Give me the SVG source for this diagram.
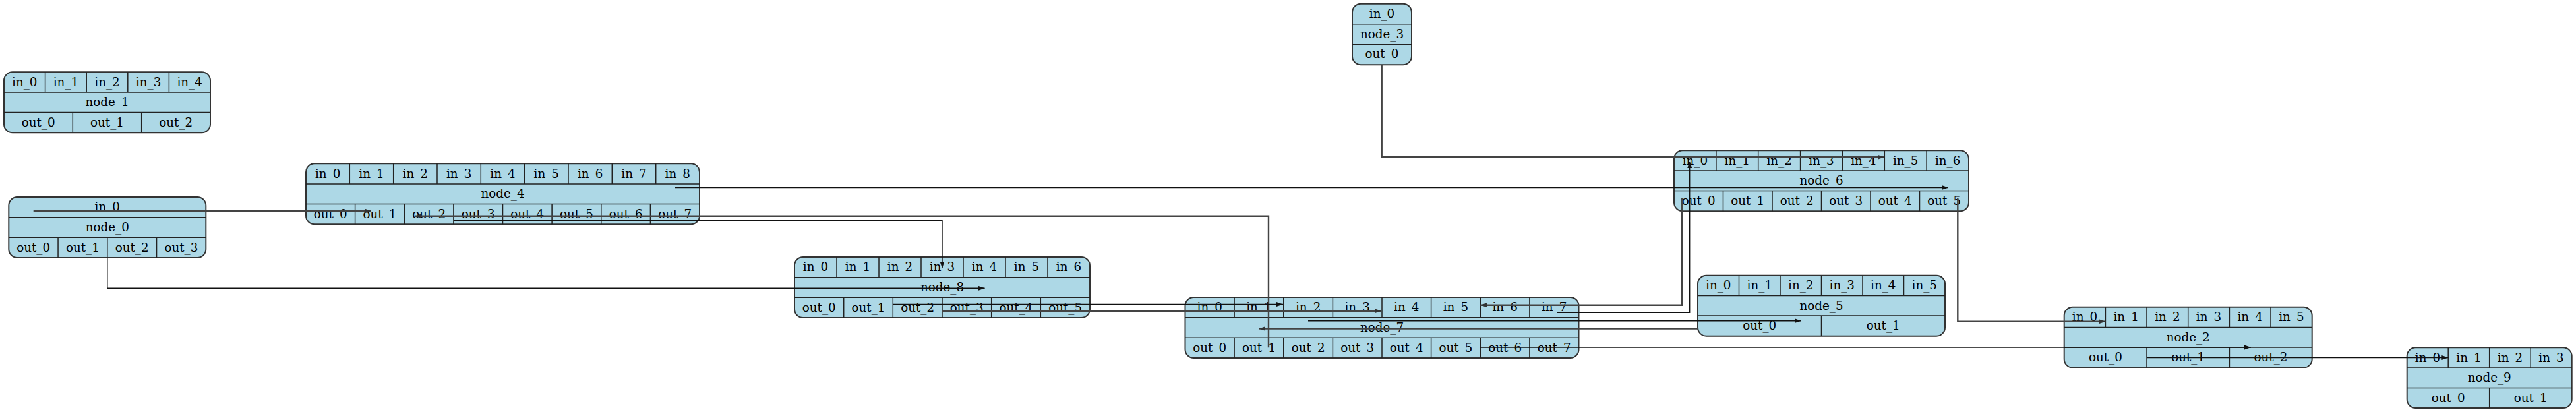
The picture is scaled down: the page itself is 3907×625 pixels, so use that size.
<svg xmlns="http://www.w3.org/2000/svg" width="3907" height="625" viewBox="0 0 3907 625">
<style>
.box{fill:#ADD8E6;stroke:#333;stroke-width:2}
.d{stroke:#222;stroke-width:1.5;fill:none}
text{font-family:"DejaVu Serif",serif;font-size:18.3px;fill:#000;text-anchor:middle}
.e{fill:none;stroke:#111;stroke-width:1.4}
.t{fill:none;stroke:#444;stroke-width:2.4}
</style>
<defs>
<marker id="a" markerUnits="userSpaceOnUse" markerWidth="11" markerHeight="8" refX="10" refY="3.5" orient="auto"><path d="M0,0 L10,3.5 L0,7 z" fill="#111"/></marker>
<marker id="b" markerUnits="userSpaceOnUse" markerWidth="11" markerHeight="8" refX="10" refY="3.5" orient="auto"><path d="M0,0 L10,3.5 L0,7 z" fill="#333"/></marker>
</defs>
<rect width="3907" height="625" fill="#fff"/>

<g id="node_1">
<rect class="box" x="6" y="109.3" width="313" height="92" rx="13"/>
<path class="d" d="M6,140 H319 M6,170.6 H319 M68.6,109.3 V140 M131.2,109.3 V140 M193.8,109.3 V140 M256.4,109.3 V140 M110.3,170.6 V201.3 M214.7,170.6 V201.3"/>
<text x="37.3" y="130.6">in_0</text><text x="99.9" y="130.6">in_1</text><text x="162.5" y="130.6">in_2</text><text x="225.1" y="130.6">in_3</text><text x="287.7" y="130.6">in_4</text>
<text x="162.5" y="161.3">node_1</text>
<text x="58.2" y="192">out_0</text><text x="162.5" y="192">out_1</text><text x="266.8" y="192">out_2</text>
</g>

<g id="node_0">
<rect class="box" x="13.3" y="299" width="299" height="92" rx="13"/>
<path class="d" d="M13.3,329.7 H312.3 M13.3,360.3 H312.3 M88.05,360.3 V391 M162.8,360.3 V391 M237.55,360.3 V391"/>
<text x="162.8" y="320.3">in_0</text>
<text x="162.8" y="351">node_0</text>
<text x="50.7" y="381.7">out_0</text><text x="125.4" y="381.7">out_1</text><text x="200.2" y="381.7">out_2</text><text x="274.9" y="381.7">out_3</text>
</g>

<g id="node_4">
<rect class="box" x="464" y="248.3" width="597" height="92" rx="13"/>
<path class="d" d="M464,279 H1061 M464,309.6 H1061 M530.3,248.3 V279 M596.7,248.3 V279 M663,248.3 V279 M729.3,248.3 V279 M795.7,248.3 V279 M862,248.3 V279 M928.3,248.3 V279 M994.7,248.3 V279 M538.6,309.6 V340.3 M613.3,309.6 V340.3 M687.9,309.6 V340.3 M762.5,309.6 V340.3 M837.1,309.6 V340.3 M911.8,309.6 V340.3 M986.4,309.6 V340.3"/>
<text x="497.2" y="269.6">in_0</text><text x="563.5" y="269.6">in_1</text><text x="629.8" y="269.6">in_2</text><text x="696.2" y="269.6">in_3</text><text x="762.5" y="269.6">in_4</text><text x="828.8" y="269.6">in_5</text><text x="895.2" y="269.6">in_6</text><text x="961.5" y="269.6">in_7</text><text x="1027.8" y="269.6">in_8</text>
<text x="762.5" y="300.3">node_4</text>
<text x="501.3" y="331">out_0</text><text x="575.9" y="331">out_1</text><text x="650.6" y="331">out_2</text><text x="725.2" y="331">out_3</text><text x="799.8" y="331">out_4</text><text x="874.4" y="331">out_5</text><text x="949.1" y="331">out_6</text><text x="1023.7" y="331">out_7</text>
</g>

<g id="node_8">
<rect class="box" x="1205" y="390" width="448" height="92" rx="13"/>
<path class="d" d="M1205,420.7 H1653 M1205,451.3 H1653 M1269,390 V420.7 M1333,390 V420.7 M1397,390 V420.7 M1461,390 V420.7 M1525,390 V420.7 M1589,390 V420.7 M1279.7,451.3 V482 M1354.3,451.3 V482 M1429,451.3 V482 M1503.7,451.3 V482 M1578.3,451.3 V482"/>
<text x="1237" y="411.3">in_0</text><text x="1301" y="411.3">in_1</text><text x="1365" y="411.3">in_2</text><text x="1429" y="411.3">in_3</text><text x="1493" y="411.3">in_4</text><text x="1557" y="411.3">in_5</text><text x="1621" y="411.3">in_6</text>
<text x="1429" y="442">node_8</text>
<text x="1242.3" y="472.7">out_0</text><text x="1317" y="472.7">out_1</text><text x="1391.7" y="472.7">out_2</text><text x="1466.3" y="472.7">out_3</text><text x="1541" y="472.7">out_4</text><text x="1615.7" y="472.7">out_5</text>
</g>

<g id="node_7">
<rect class="box" x="1797.5" y="451" width="597" height="92" rx="13"/>
<path class="d" d="M1797.5,481.7 H2394.5 M1797.5,512.3 H2394.5 M1872.1,451 V481.7 M1946.75,451 V481.7 M2021.4,451 V481.7 M2096,451 V481.7 M2170.6,451 V481.7 M2245.25,451 V481.7 M2319.9,451 V481.7 M1872.1,512.3 V543 M1946.75,512.3 V543 M2021.4,512.3 V543 M2096,512.3 V543 M2170.6,512.3 V543 M2245.25,512.3 V543 M2319.9,512.3 V543"/>
<text x="1834.8" y="472.3">in_0</text><text x="1909.4" y="472.3">in_1</text><text x="1984.1" y="472.3">in_2</text><text x="2058.7" y="472.3">in_3</text><text x="2133.3" y="472.3">in_4</text><text x="2207.9" y="472.3">in_5</text><text x="2282.6" y="472.3">in_6</text><text x="2357.2" y="472.3">in_7</text>
<text x="2096" y="503">node_7</text>
<text x="1834.8" y="533.7">out_0</text><text x="1909.4" y="533.7">out_1</text><text x="1984.1" y="533.7">out_2</text><text x="2058.7" y="533.7">out_3</text><text x="2133.3" y="533.7">out_4</text><text x="2207.9" y="533.7">out_5</text><text x="2282.6" y="533.7">out_6</text><text x="2357.2" y="533.7">out_7</text>
</g>

<g id="node_3">
<rect class="box" x="2051" y="5.7" width="90" height="92.6" rx="13"/>
<path class="d" d="M2051,36.7 H2141 M2051,67.3 H2141"/>
<text x="2096" y="27">in_0</text>
<text x="2096" y="57.7">node_3</text>
<text x="2096" y="88.4">out_0</text>
</g>

<g id="node_6">
<rect class="box" x="2539" y="228.3" width="447" height="92" rx="13"/>
<path class="d" d="M2539,259 H2986 M2539,289.6 H2986 M2602.9,228.3 V259 M2666.7,228.3 V259 M2730.6,228.3 V259 M2794.4,228.3 V259 M2858.3,228.3 V259 M2922.1,228.3 V259 M2613.5,289.6 V320.3 M2688,289.6 V320.3 M2762.5,289.6 V320.3 M2837,289.6 V320.3 M2911.5,289.6 V320.3"/>
<text x="2570.9" y="249.6">in_0</text><text x="2634.8" y="249.6">in_1</text><text x="2698.6" y="249.6">in_2</text><text x="2762.5" y="249.6">in_3</text><text x="2826.4" y="249.6">in_4</text><text x="2890.2" y="249.6">in_5</text><text x="2954.1" y="249.6">in_6</text>
<text x="2762.5" y="280.3">node_6</text>
<text x="2576.25" y="311">out_0</text><text x="2650.75" y="311">out_1</text><text x="2725.25" y="311">out_2</text><text x="2799.75" y="311">out_3</text><text x="2874.25" y="311">out_4</text><text x="2948.75" y="311">out_5</text>
</g>

<g id="node_5">
<rect class="box" x="2575" y="417.7" width="375" height="92" rx="13"/>
<path class="d" d="M2575,448.4 H2950 M2575,479 H2950 M2637.5,417.7 V448.4 M2700,417.7 V448.4 M2762.5,417.7 V448.4 M2825,417.7 V448.4 M2887.5,417.7 V448.4 M2762.5,479 V509.7"/>
<text x="2606.25" y="439">in_0</text><text x="2668.75" y="439">in_1</text><text x="2731.25" y="439">in_2</text><text x="2793.75" y="439">in_3</text><text x="2856.25" y="439">in_4</text><text x="2918.75" y="439">in_5</text>
<text x="2762.5" y="469.7">node_5</text>
<text x="2668.75" y="500.4">out_0</text><text x="2856.25" y="500.4">out_1</text>
</g>

<g id="node_2">
<rect class="box" x="3130.7" y="465.7" width="376" height="92" rx="13"/>
<path class="d" d="M3130.7,496.4 H3506.7 M3130.7,527 H3506.7 M3193.4,465.7 V496.4 M3256,465.7 V496.4 M3318.7,465.7 V496.4 M3381.4,465.7 V496.4 M3444,465.7 V496.4 M3256,527 V557.7 M3381.4,527 V557.7"/>
<text x="3162" y="487">in_0</text><text x="3224.7" y="487">in_1</text><text x="3287.4" y="487">in_2</text><text x="3350" y="487">in_3</text><text x="3412.7" y="487">in_4</text><text x="3475.4" y="487">in_5</text>
<text x="3318.7" y="517.7">node_2</text>
<text x="3193.4" y="548.4">out_0</text><text x="3318.7" y="548.4">out_1</text><text x="3444" y="548.4">out_2</text>
</g>

<g id="node_9">
<rect class="box" x="3650.7" y="527.3" width="250" height="91.7" rx="13"/>
<path class="d" d="M3650.7,558 H3900.7 M3650.7,588.6 H3900.7 M3713.2,527.3 V558 M3775.7,527.3 V558 M3838.2,527.3 V558 M3775.7,588.6 V619"/>
<text x="3682" y="548.6">in_0</text><text x="3744.5" y="548.6">in_1</text><text x="3807" y="548.6">in_2</text><text x="3869.5" y="548.6">in_3</text>
<text x="3775.7" y="579.3">node_9</text>
<text x="3713.2" y="610">out_0</text><text x="3838.2" y="610">out_1</text>
</g>

<g id="connectors">
<path class="t" marker-end="url(#b)" d="M50.7,320 H563"/>
<path class="e" marker-end="url(#a)" d="M162.8,391 V437.3 H1493.6"/>
<path class="e" marker-end="url(#a)" d="M688,334.3 H1429 V406.7"/>
<path class="e" marker-end="url(#a)" d="M1024,284.5 H2955"/>
<path class="t" marker-end="url(#b)" d="M1924,527.3 V327.7 H629.4"/>
<path class="e" marker-end="url(#a)" d="M1354.3,461.5 H1946"/>
<path class="t" marker-end="url(#b)" d="M1429,471.7 H2095"/>
<path class="t" marker-end="url(#b)" d="M2095.7,98.3 V238.3 H2858"/>
<path class="t" marker-end="url(#b)" d="M2551,300.7 V462.7 H2245.3"/>
<path class="e" marker-end="url(#a)" d="M2362,474.3 H2562.7 V245"/>
<path class="e" marker-end="url(#a)" d="M1984,486.7 H2731.7"/>
<path class="t" marker-end="url(#b)" d="M2575,498.5 H1909.4"/>
<path class="e" marker-end="url(#a)" d="M2245.3,527 H3414"/>
<path class="t" marker-end="url(#b)" d="M2969.3,300.7 V487.7 H3193.3"/>
<path class="e" marker-end="url(#a)" d="M3256,542.5 H3713.3"/>
</g>
</svg>
